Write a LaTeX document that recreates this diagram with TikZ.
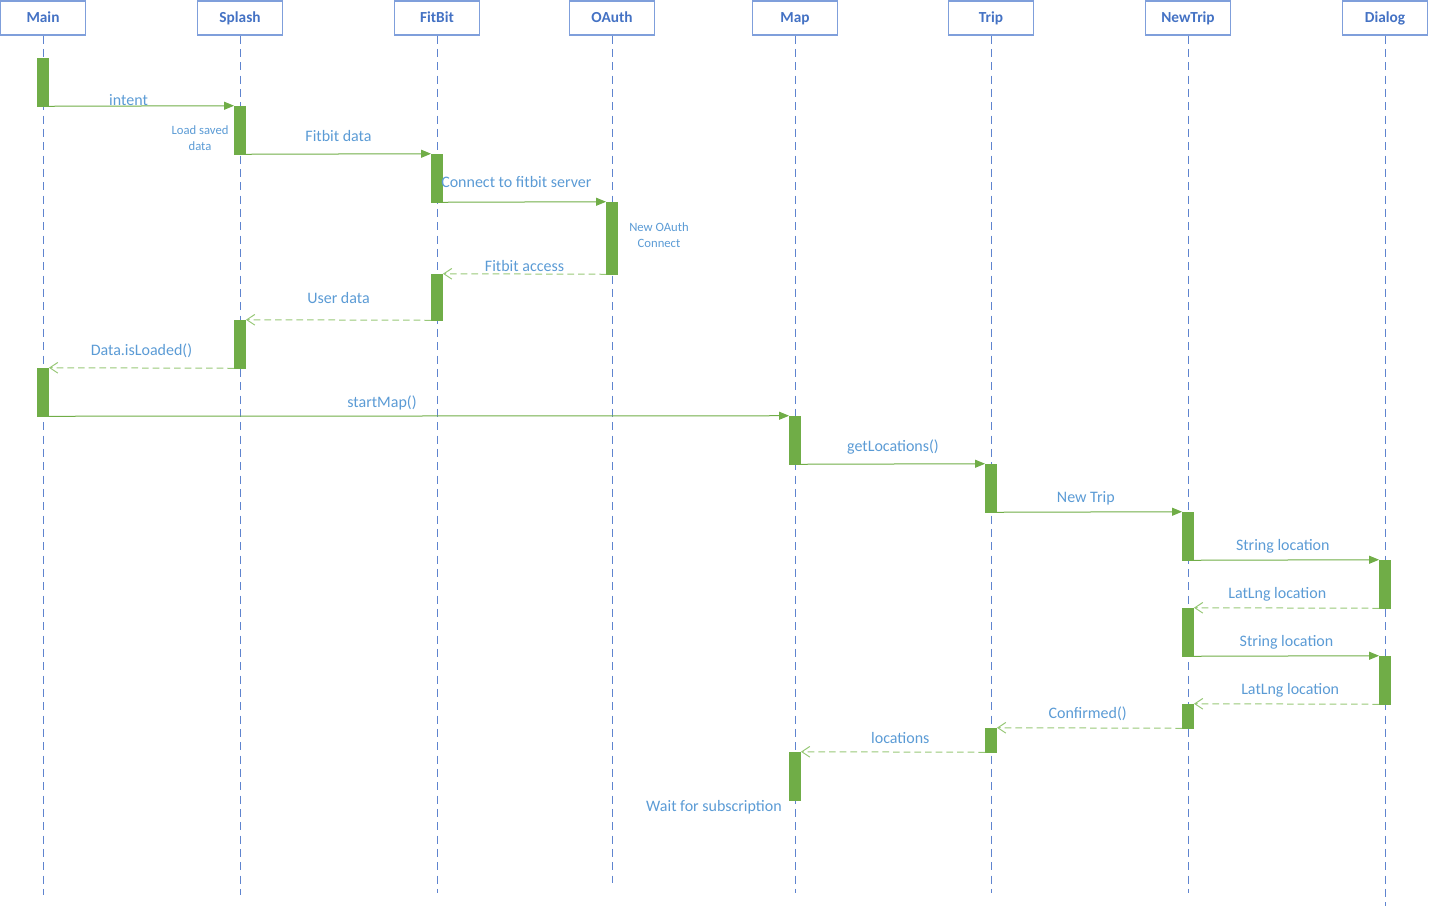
\documentclass[tikz,border=0pt]{standalone}
\usepackage{fontspec}
\setmainfont{Carlito}
\usetikzlibrary{arrows.meta}
\definecolor{headblue}{HTML}{4472C4}
\definecolor{boxblue}{HTML}{7F9FDB}
\definecolor{lineblue}{HTML}{5F84CF}
\definecolor{textblue}{HTML}{5B9BD5}
\definecolor{bargreen}{HTML}{70AD47}
\definecolor{retgreen}{HTML}{98C878}

\begin{document}
\begin{tikzpicture}[x=0.75pt,y=-0.75pt,
  head/.style={draw=boxblue, line width=0.9pt, fill=white, minimum width=63.75pt, minimum height=25.5pt, inner sep=0pt, text height=1.55ex, text depth=0pt, text=headblue, font=\bfseries\fontsize{11.5}{13}\selectfont},
  life/.style={draw=lineblue, line width=0.75pt, dash pattern=on 6pt off 4pt},
  bar/.style={fill=bargreen, draw=bargreen, line width=0.4pt, minimum width=8.5pt, minimum height=#1, inner sep=0pt},
  bar/.default=36pt,
  call/.style={draw=bargreen, line width=0.75pt, -{Triangle[length=7.5pt,width=6pt]}},
  reply/.style={draw=retgreen, line width=0.75pt, dash pattern=on 5pt off 3pt, -{Straight Barb[length=6pt,width=8pt]}},
  lbl/.style={text=textblue, font=\fontsize{12}{14}\selectfont, inner sep=0pt},
  note/.style={text=textblue, font=\fontsize{9.5}{12}\selectfont, inner sep=0pt, align=center}]

  \useasboundingbox (0,0) rectangle (1429,906);

% Draw the lifelines
  \coordinate (mainend) at (43,895);
  \coordinate (splashend) at (240,895);
  \coordinate (fitbitend) at (437,893);
  \coordinate (oauthend) at (612,883);
  \coordinate (mapend) at (795,893);
  \coordinate (tripend) at (991,893);
  \coordinate (newtripend) at (1188,893);
  \coordinate (dialogend) at (1385,906);

  \node[head] (main) at (43,18) {Main};
  \node[head] (splash) at (240,18) {Splash};
  \node[head] (fitbit) at (437,18) {FitBit};
  \node[head] (oauth) at (612,18) {OAuth};
  \node[head] (map) at (795,18) {Map};
  \node[head] (trip) at (991,18) {Trip};
  \node[head] (newtrip) at (1188,18) {NewTrip};
  \node[head] (dialog) at (1385,18) {Dialog};

  \draw[life] (main.south) -- (mainend);
  \draw[life] (splash.south) -- (splashend);
  \draw[life] (fitbit.south) -- (fitbitend);
  \draw[life] (oauth.south) -- (oauthend);
  \draw[life] (map.south) -- (mapend);
  \draw[life] (trip.south) -- (tripend);
  \draw[life] (newtrip.south) -- (newtripend);
  \draw[life] (dialog.south) -- (dialogend);

% Draw the activation bars
  \node[bar] (b1) at (43,82) {};
  \node[bar] (b2) at (240,130) {};
  \node[bar] (b3) at (437,178) {};
  \node[bar=54pt] (b4) at (612,238) {};
  \node[bar=34.5pt] (b5) at (437,297) {};
  \node[bar] (b6) at (240,344) {};
  \node[bar] (b7) at (43,392) {};
  \node[bar] (b8) at (795,440) {};
  \node[bar] (b9) at (991,488) {};
  \node[bar] (b10) at (1188,536) {};
  \node[bar] (b11) at (1385,584) {};
  \node[bar] (b12) at (1188,632) {};
  \node[bar] (b13) at (1385,680) {};
  \node[bar=18pt] (b14) at (1188,716) {};
  \node[bar=18pt] (b15) at (991,740) {};
  \node[bar] (b16) at (795,776) {};

% Notes beside the bars
  \node[note] (loadnote) at (200,138) {Load saved\\data};
  \node[note] (oauthnote) at (659,235) {New OAuth\\Connect};
  \node[lbl] (waitnote) at (714,807) {Wait for subscription};

% Calls
  \draw[call] (b1.south east) -- (b2.north west) node[lbl, pos=0.43, yshift=4.5pt] {intent};
  \draw[call] (b2.south east) -- (b3.north west) node[lbl, midway, yshift=13.5pt] {Fitbit data};
  \draw[call] (b3.south east) -- (b4.north west) node[lbl, pos=0.45, yshift=15pt] {Connect to fitbit server};
  \draw[call] (b7.south east) -- (b8.north west) node[lbl, pos=0.45, yshift=10pt] {startMap()};
  \draw[call] (b8.south east) -- (b9.north west) node[lbl, midway, yshift=12.75pt] {getLocations()};
  \draw[call] (b9.south east) -- (b10.north west) node[lbl, pos=0.48, yshift=10.5pt] {New Trip};
  \draw[call] (b10.south east) -- (b11.north west) node[lbl, pos=0.48, yshift=10.5pt] {String location};
  \draw[call] (b12.south east) -- (b13.north west) node[lbl, midway, yshift=10.5pt] {String location};

% Replies
  \draw[reply] (b4.south west) -- (b5.north east) node[lbl, pos=0.5, yshift=6pt] {Fitbit access};
  \draw[reply] (b5.south west) -- (b6.north east) node[lbl, midway, yshift=16.5pt] {User data};
  \draw[reply] (b6.south west) -- (b7.north east) node[lbl, midway, yshift=12.75pt] {Data.isLoaded()};
  \draw[reply] (b11.south west) -- (b12.north east) node[lbl, pos=0.55, yshift=10.5pt] {LatLng location};
  \draw[reply] (b13.south west) -- (b14.north east) node[lbl, pos=0.48, yshift=10.5pt] {LatLng location};
  \draw[reply] (b14.south west) -- (b15.north east) node[lbl, pos=0.51, yshift=10.5pt] {Confirmed()};
  \draw[reply] (b15.south west) -- (b16.north east) node[lbl, pos=0.46, yshift=10.5pt] {locations};

\end{tikzpicture}
\end{document}
